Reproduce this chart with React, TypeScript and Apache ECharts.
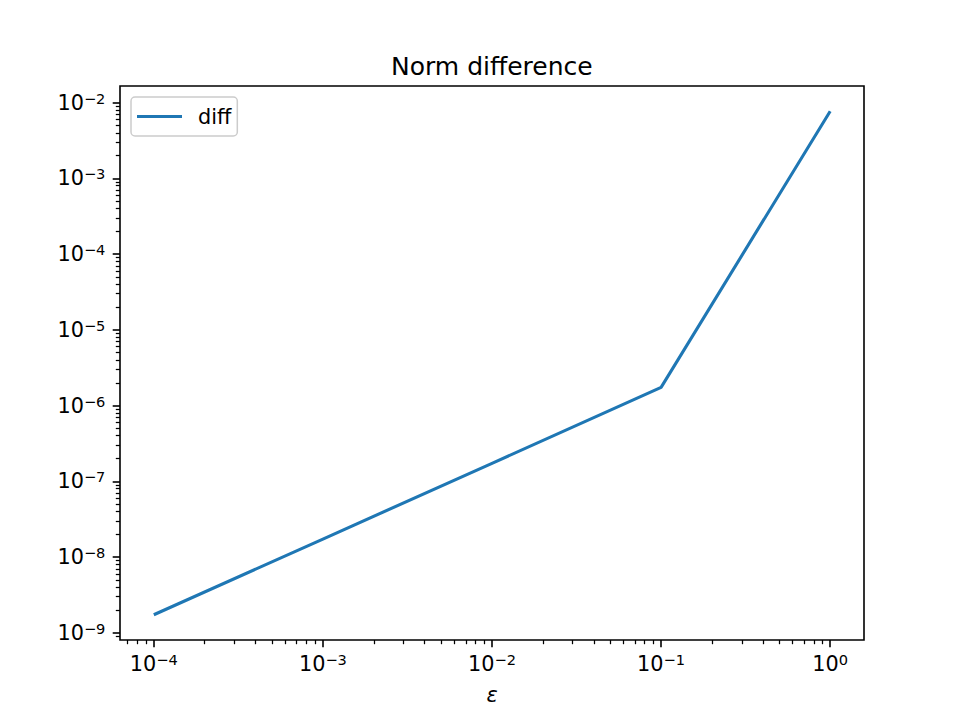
import React, { useEffect, useRef } from 'react';
import * as echarts from 'echarts';

// Data
const epsValues = [1e-4, 1e-3, 1e-2, 1e-1, 1];
const diffValues = [1.73e-9, 1.73e-8, 1.73e-7, 1.74e-6, 7.7e-3];
const seriesName = 'diff';
const titleText = 'Norm difference';
const xAxisName = 'ε';

// Axis ticks (exponents of 10)
const xTickExponents = [-4, -3, -2, -1, 0];
const yTickExponents = [-9, -8, -7, -6, -5, -4, -3, -2];
const xLogRange = [-4.2, 0.2];
const yLogRange = [-9.095, -1.78];

const FONT = 'DejaVu Sans';

function minorTicks(lo: number, hi: number): number[] {
  const out: number[] = [];
  for (let n = Math.floor(lo); n <= Math.ceil(hi); n++) {
    for (let k = 2; k <= 9; k++) {
      const v = n + Math.log10(k);
      if (v > lo && v < hi) out.push(v);
    }
  }
  return out;
}

function powLabel(v: number): string {
  const n = Math.round(v);
  const e = n < 0 ? '\u2212' + String(-n) : String(n);
  return `{b|10}{s|${e}}`;
}

const rich = {
  b: { fontSize: 20.8, fontFamily: FONT, color: '#000', lineHeight: 24 },
  s: { fontSize: 14.6, fontFamily: FONT, color: '#000', verticalAlign: 'top', lineHeight: 12 },
};

export default function App() {
  const ref = useRef<HTMLDivElement>(null);
  useEffect(() => {
    if (!ref.current) return;
    const chart = echarts.init(ref.current, null, { renderer: 'svg' });
    const lineData = epsValues.map((x, i) => [Math.log10(x), Math.log10(diffValues[i])]);
    chart.setOption({
      animation: false,
      backgroundColor: '#fff',
      title: {
        text: titleText,
        left: 391,
        top: 54,
        padding: 0,
        textStyle: { fontFamily: FONT, fontSize: 25, fontWeight: 'normal', color: '#000' },
      },
      legend: {
        left: 131,
        top: 97,
        orient: 'vertical',
        padding: [9, 6, 9, 6],
        itemWidth: 45,
        itemHeight: 3.1,
        borderColor: '#cccccc',
        borderWidth: 1.5,
        borderRadius: 4,
        backgroundColor: 'rgba(255,255,255,0.8)',
        textStyle: { fontFamily: FONT, fontSize: 20.8, color: '#000', padding: [0, 0, 0, 11] },
        data: [{ name: seriesName, icon: 'rect', itemStyle: { color: '#1f77b4' } }],
      },
      grid: {
        left: 120,
        right: 96,
        top: 86,
        bottom: 80,
        show: true,
        borderColor: '#000',
        borderWidth: 1.6,
        backgroundColor: 'transparent',
      },
      xAxis: [
        {
          type: 'value',
          min: xLogRange[0],
          max: xLogRange[1],
          position: 'bottom',
          axisLine: { show: false, onZero: false },
          splitLine: { show: false },
          axisTick: { show: true, customValues: xTickExponents, length: 7.3, lineStyle: { color: '#000', width: 1.6 } },
          axisLabel: { customValues: xTickExponents, formatter: powLabel, rich, margin: 12 },
          name: xAxisName,
          nameLocation: 'middle',
          nameGap: 44,
          nameTextStyle: { fontFamily: FONT, fontSize: 20.8, fontStyle: 'italic', color: '#000' },
        },
        {
          type: 'value',
          min: xLogRange[0],
          max: xLogRange[1],
          position: 'bottom',
          axisLine: { show: false, onZero: false },
          splitLine: { show: false },
          axisLabel: { show: false },
          axisTick: { show: true, customValues: minorTicks(xLogRange[0], xLogRange[1]), length: 4.2, lineStyle: { color: '#000', width: 1.25 } },
        },
      ],
      yAxis: [
        {
          type: 'value',
          min: yLogRange[0],
          max: yLogRange[1],
          position: 'left',
          axisLine: { show: false, onZero: false },
          splitLine: { show: false },
          axisTick: { show: true, customValues: yTickExponents, length: 7.3, lineStyle: { color: '#000', width: 1.6 } },
          axisLabel: { customValues: yTickExponents, formatter: powLabel, rich, margin: 14.6, align: 'right' },
        },
        {
          type: 'value',
          min: yLogRange[0],
          max: yLogRange[1],
          position: 'left',
          axisLine: { show: false, onZero: false },
          splitLine: { show: false },
          axisLabel: { show: false },
          axisTick: { show: true, customValues: minorTicks(yLogRange[0], yLogRange[1]), length: 4.2, lineStyle: { color: '#000', width: 1.25 } },
        },
      ],
      series: [
        {
          name: seriesName,
          type: 'line',
          xAxisIndex: 0,
          yAxisIndex: 0,
          data: lineData,
          symbol: 'none',
          color: '#1f77b4',
          lineStyle: { color: '#1f77b4', width: 3.1 },
        },
      ],
    });
    return () => chart.dispose();
  }, []);
  return <div ref={ref} style={{ position: 'fixed', left: 0, top: 0, width: 960, height: 720 }} />;
}
